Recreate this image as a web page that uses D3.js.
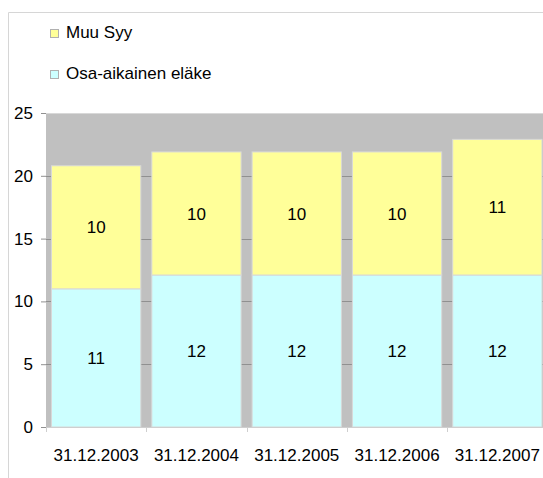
<!DOCTYPE html>
<html>
<head>
<meta charset="utf-8">
<script src="https://cdn.jsdelivr.net/npm/d3@7.9.0/dist/d3.min.js"></script>
<style>
  html, body { margin: 0; padding: 0; background: #fff; }
  svg { display: block; font-family: Arial, "Liberation Sans", sans-serif; }
</style>
</head>
<body>
<div id="chart"></div>
<script>
// data
const categories = ['31.12.2003', '31.12.2004', '31.12.2005', '31.12.2006', '31.12.2007'];
const osaAikainen = [11.0, 12.1, 12.1, 12.1, 12.1];
const muuSyy      = [9.8, 9.8, 9.8, 9.8, 10.8];
const yTicks = [0, 5, 10, 15, 20, 25];
const seriesNames = ['Osa-aikainen eläke', 'Muu Syy'];
const seriesColors = ['#ccffff', '#ffff99'];

const width = 543, height = 478;
const margin = {top: 113, left: 46, bottom: 51};
const plotRight = 547.5;
const fontSize = 17;

const svg = d3.select('#chart').append('svg')
  .attr('width', width)
  .attr('height', height)
  .attr('viewBox', [0, 0, width, height]);

// outer chart border
svg.append('path')
  .attr('d', `M8.5,${height} V12.5 H${width}`)
  .attr('fill', 'none')
  .attr('stroke', '#d6d6d6');

const x = d3.scaleBand()
  .domain(categories)
  .range([margin.left, plotRight]);

const y = d3.scaleLinear()
  .domain([0, 25])
  .range([height - margin.bottom, margin.top]);

// plot background
svg.append('rect')
  .attr('x', margin.left)
  .attr('y', y(25))
  .attr('width', plotRight - margin.left)
  .attr('height', y(0) - y(25))
  .attr('fill', '#c0c0c0');

svg.append('line')
  .attr('x1', margin.left).attr('x2', width)
  .attr('y1', y(25) + 0.5).attr('y2', y(25) + 0.5)
  .attr('stroke', '#d8d8d8');

// grid lines
svg.append('g')
  .selectAll('line')
  .data(yTicks.filter(d => d > 0 && d < 25))
  .join('line')
    .attr('x1', margin.left).attr('x2', plotRight)
    .attr('y1', d => Math.round(y(d)) + 0.5)
    .attr('y2', d => Math.round(y(d)) + 0.5)
    .attr('stroke', '#909090');

// stacked bars
const table = categories.map((c, i) => ({cat: c, osa: osaAikainen[i], muu: muuSyy[i]}));
const stack = d3.stack().keys(['osa', 'muu'])(table);

const inset = x.bandwidth() * 0.055;
const barW = x.bandwidth() * 0.89;

const layers = svg.append('g')
  .selectAll('g')
  .data(stack)
  .join('g')
    .attr('fill', (d, i) => seriesColors[i]);

layers.selectAll('rect')
  .data(d => d)
  .join('rect')
    .attr('x', d => x(d.data.cat) + inset)
    .attr('y', d => y(d[1]))
    .attr('width', barW)
    .attr('height', d => y(d[0]) - y(d[1]))
    .attr('stroke', '#d8d8d8')
    .attr('stroke-width', 1);

layers.selectAll('text')
  .data(d => d)
  .join('text')
    .attr('x', d => x(d.data.cat) + inset + barW / 2)
    .attr('y', d => (y(d[0]) + y(d[1])) / 2)
    .attr('dy', '0.36em')
    .attr('text-anchor', 'middle')
    .attr('fill', '#000')
    .attr('font-size', fontSize)
    .text(d => d3.format('.0f')(d[1] - d[0]));

// y axis
const yAxis = svg.append('g')
  .attr('transform', `translate(${margin.left},0)`)
  .call(d3.axisLeft(y).tickValues(yTicks).tickSize(5).tickPadding(8));
yAxis.select('.domain').remove();
yAxis.selectAll('line').attr('stroke', '#909090');
yAxis.selectAll('text').attr('font-size', fontSize).attr('fill', '#000').attr('font-family', null);

// x axis
const xAxis = svg.append('g')
  .attr('transform', `translate(0,${y(0)})`);
xAxis.append('line')
  .attr('x1', margin.left).attr('x2', width)
  .attr('y1', 0.5).attr('y2', 0.5)
  .attr('stroke', '#cfcfcf');
xAxis.selectAll('.tick')
  .data(categories)
  .join('line')
    .attr('x1', d => Math.round(x(d)) + 0.5)
    .attr('x2', d => Math.round(x(d)) + 0.5)
    .attr('y1', 0).attr('y2', 5)
    .attr('stroke', '#cfcfcf');
xAxis.selectAll('text')
  .data(categories)
  .join('text')
    .attr('x', d => x(d) + x.bandwidth() / 2)
    .attr('y', 34)
    .attr('text-anchor', 'middle')
    .attr('font-size', fontSize)
    .attr('fill', '#000')
    .text(d => d);

// legend (Muu Syy on top)
const legendItems = [1, 0];
const legend = svg.append('g')
  .selectAll('g')
  .data(legendItems)
  .join('g')
    .attr('transform', (d, i) => `translate(50,${29 + i * 41})`);
legend.append('rect')
  .attr('x', 0.5).attr('y', 0.5)
  .attr('width', 8).attr('height', 8)
  .attr('fill', d => seriesColors[d])
  .attr('stroke', '#b0b0b0');
legend.append('text')
  .attr('x', 16)
  .attr('y', 9)
  .attr('font-size', fontSize)
  .attr('fill', '#000')
  .text(d => seriesNames[d]);
</script>
</body>
</html>
